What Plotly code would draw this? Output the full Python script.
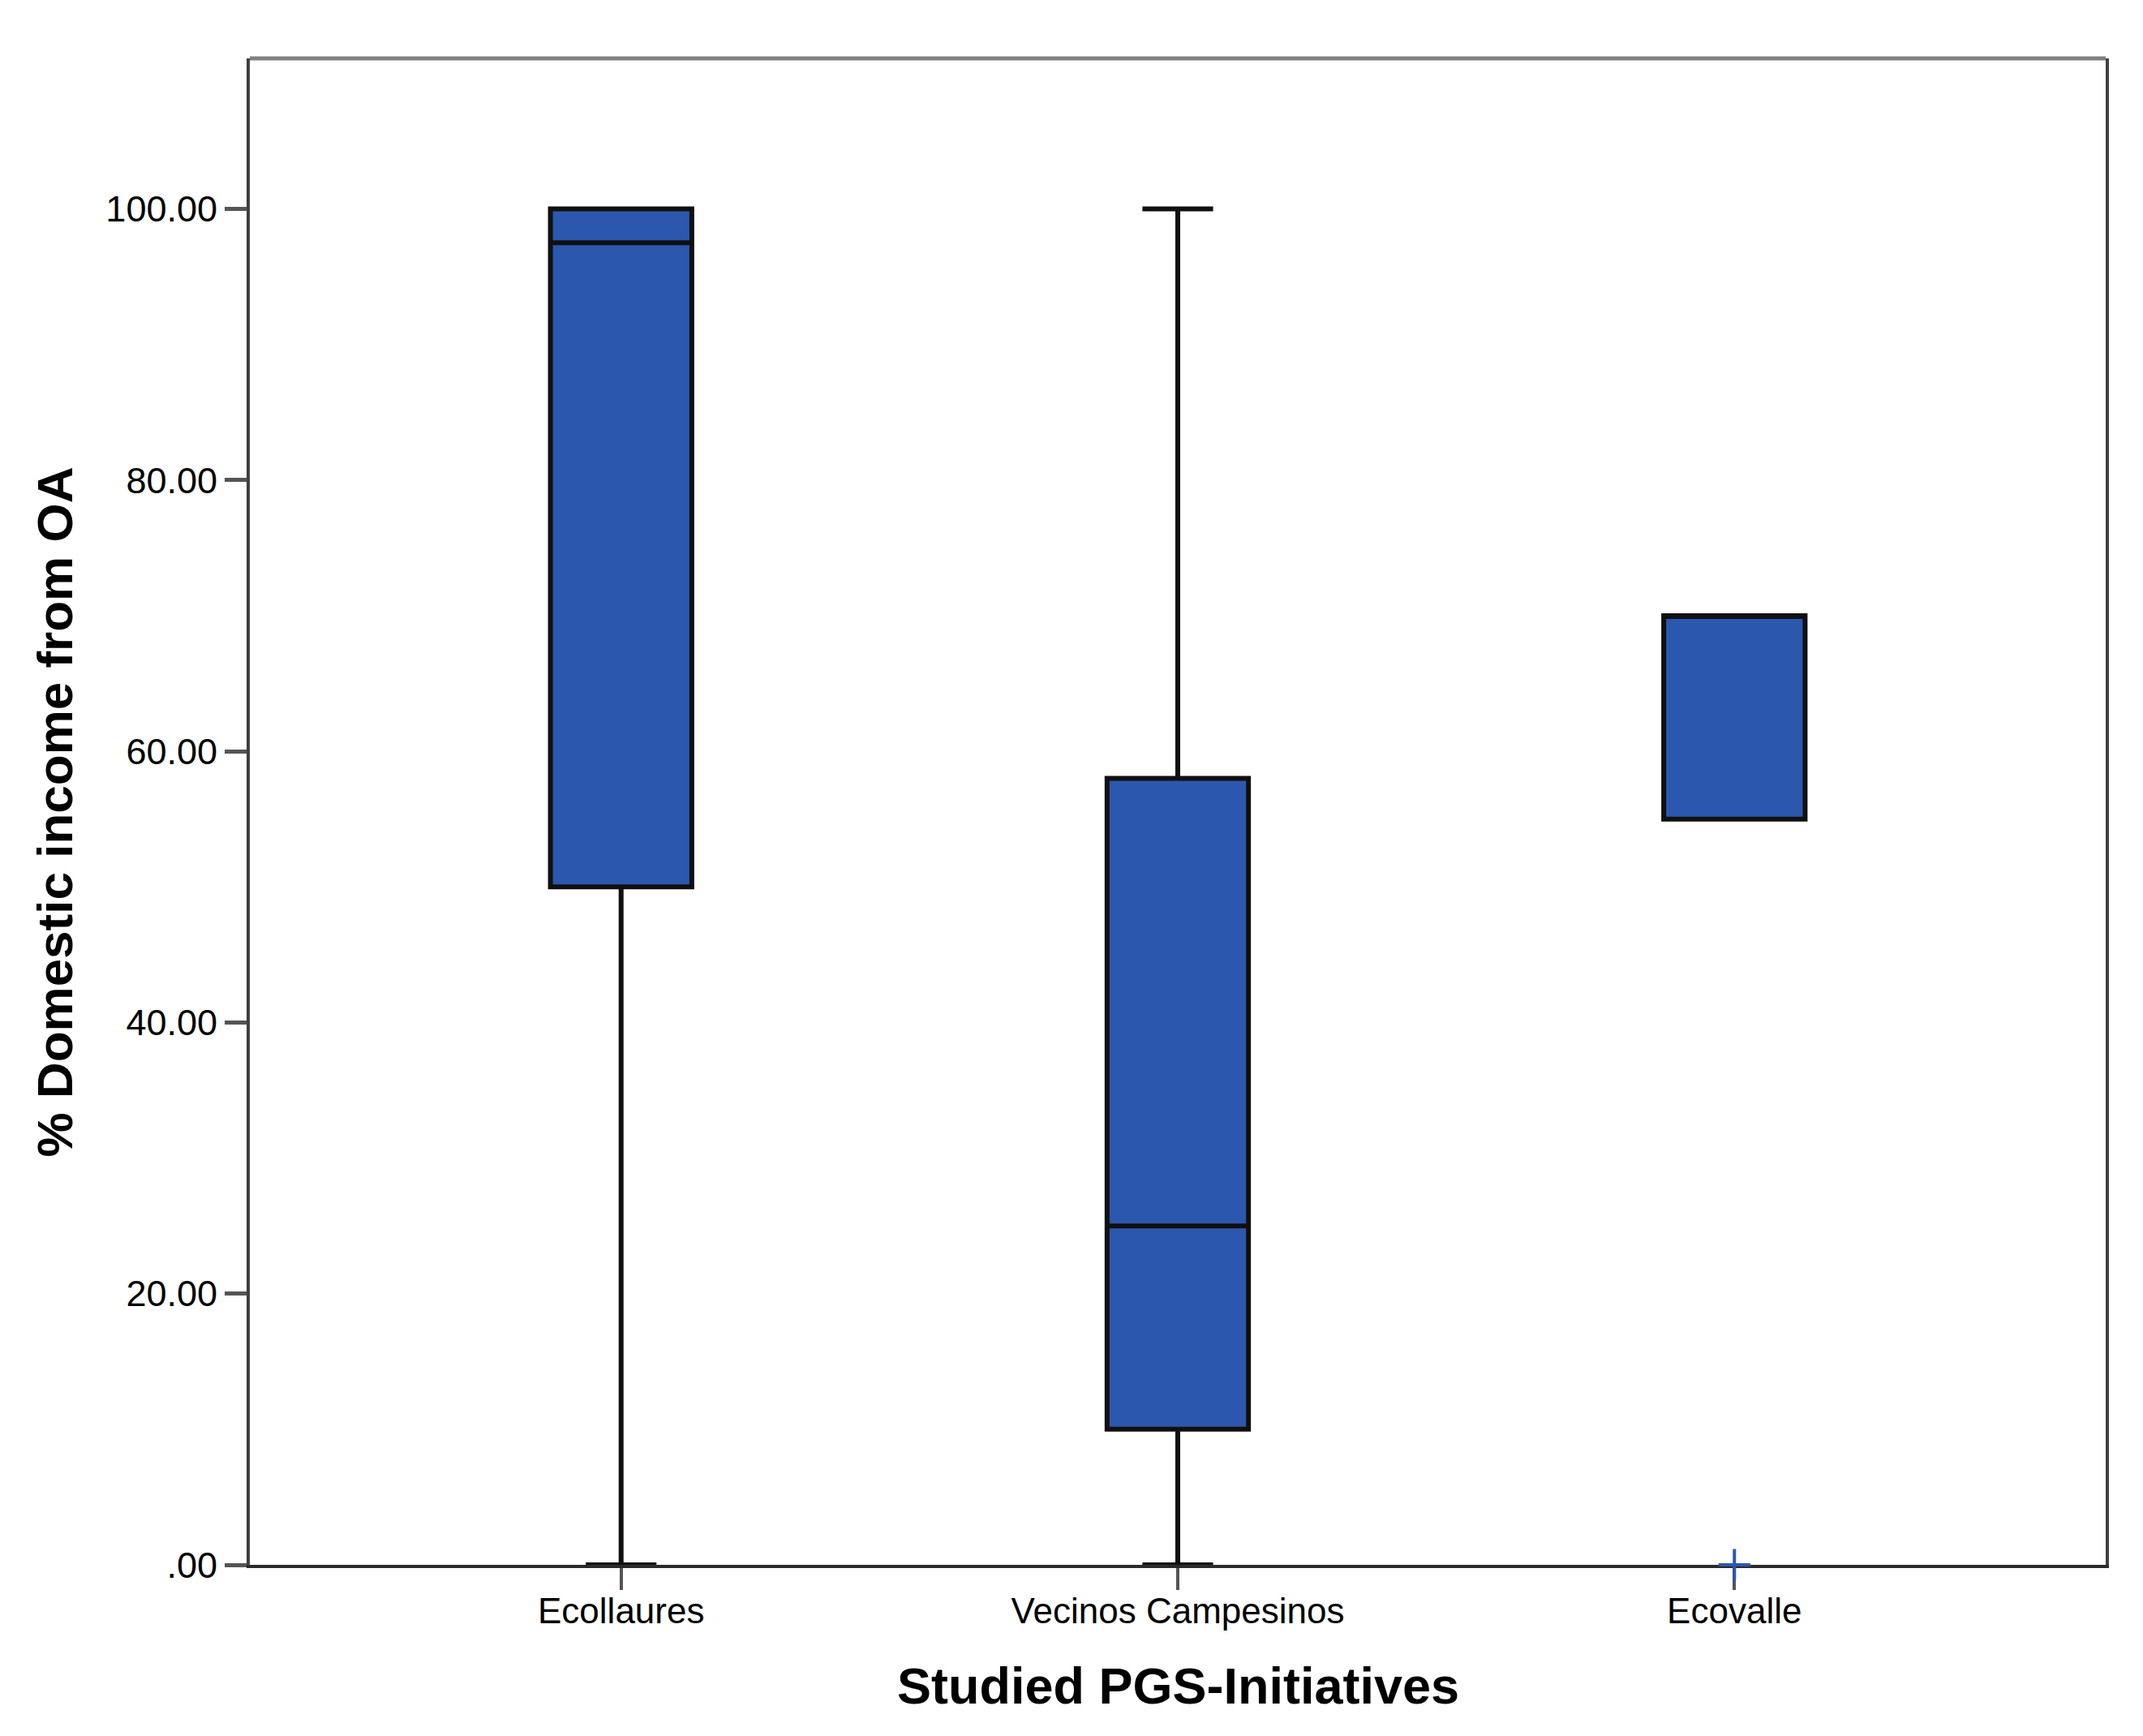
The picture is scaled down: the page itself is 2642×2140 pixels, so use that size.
import plotly.graph_objects as go

categories = ["Ecollaures", "Vecinos Campesinos", "Ecovalle"]
lower_fence = [0, 0, 55]
q1 = [50, 10, 55]
median = [97.5, 25, 70]
q3 = [100, 58, 70]
upper_fence = [100, 100, 70]
outlier_cat = ["Ecovalle"]
outlier_val = [0]

y_ticks = [0, 20, 40, 60, 80, 100]
y_ticktext = [".00", "20.00", "40.00", "60.00", "80.00", "100.00"]

BLUE = "#2C57AE"
FONT = "Liberation Sans, Arial, sans-serif"

fig = go.Figure()
fig.add_trace(go.Box(
    x=categories,
    lowerfence=lower_fence,
    q1=q1,
    median=median,
    q3=q3,
    upperfence=upper_fence,
    fillcolor=BLUE,
    line=dict(color="#101010", width=6),
    whiskerwidth=0.5,
    width=0.254,
    boxpoints=False,
    showlegend=False,
    hoverinfo="y",
))
fig.add_trace(go.Scatter(
    x=outlier_cat,
    y=outlier_val,
    mode="markers",
    marker=dict(symbol="cross-thin", size=28, line=dict(color=BLUE, width=4), color=BLUE),
    showlegend=False,
    cliponaxis=False,
))

fig.update_layout(
    width=2642,
    height=2140,
    margin=dict(l=300, r=54, t=64, b=219),
    paper_bgcolor="white",
    plot_bgcolor="white",
    font=dict(family=FONT, size=44, color="black"),
    xaxis=dict(
        type="category",
        categoryorder="array",
        categoryarray=categories,
        range=[-0.667, 2.667],
        showgrid=False,
        zeroline=False,
        showline=True,
        linecolor="#2a2a2a",
        linewidth=4,
        layer="below traces",
        ticks="outside",
        ticklen=27,
        tickwidth=4,
        tickcolor="#555555",
        ticklabelstandoff=-12,
        tickfont=dict(family=FONT, size=44, color="black"),
    ),
    yaxis=dict(
        range=[0, 111.1],
        tickvals=y_ticks,
        ticktext=y_ticktext,
        showgrid=False,
        zeroline=False,
        showline=True,
        mirror=True,
        linecolor="#404040",
        linewidth=4,
        layer="below traces",
        ticks="outside",
        ticklen=27,
        tickwidth=5,
        tickcolor="#555555",
        tickfont=dict(family=FONT, size=45, color="black"),
    ),
    shapes=[dict(type="line", xref="paper", yref="paper", x0=0, x1=1, y0=1, y1=1,
                 line=dict(color="#808080", width=5))],
    annotations=[
        dict(text="<b>Studied PGS-Initiatives</b>", xref="paper", yref="paper",
             x=0.5004, y=-0.0802, xanchor="center", yanchor="middle", showarrow=False,
             font=dict(family=FONT, size=63, color="black")),
        dict(text="<b>% Domestic income from OA</b>", xref="paper", yref="paper",
             x=-0.1049, y=0.5, xanchor="center", yanchor="middle", textangle=-90,
             showarrow=False, font=dict(family=FONT, size=62, color="black")),
    ],
)

fig.write_html("out.html")
